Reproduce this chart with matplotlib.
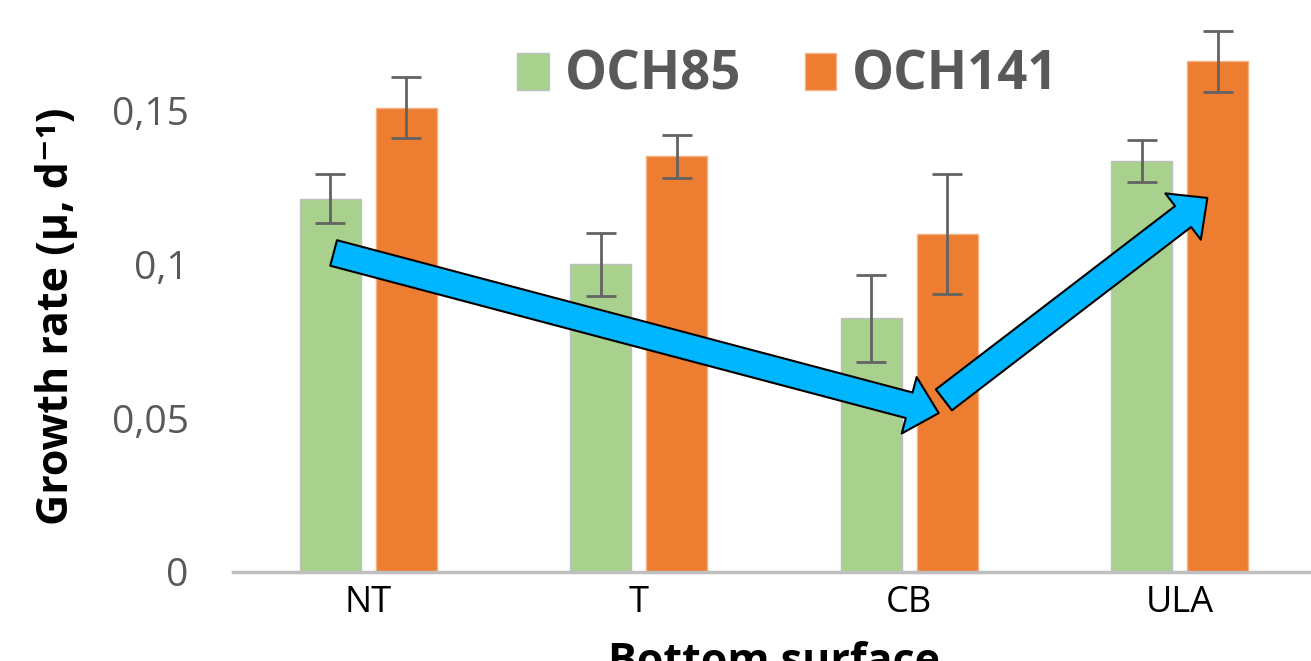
import matplotlib
matplotlib.use("Agg")
import matplotlib.pyplot as plt
import numpy as np
from matplotlib.ticker import FixedLocator

categories = ["NT", "T", "CB", "ULA"]
series_names = ["OCH85", "OCH141"]
och85 = [0.1215, 0.1001, 0.0825, 0.1336]
och85_err = [0.0079, 0.0103, 0.0142, 0.0068]
och141 = [0.1510, 0.1352, 0.1101, 0.1661]
och141_err = [0.0099, 0.0070, 0.0195, 0.0100]
yticks = [0, 0.05, 0.1, 0.15]
ytick_labels = ["0", "0,05", "0,1", "0,15"]

# annotation arrows (data coords: category index, value)
arrow1 = ((-0.128, 0.1038), (2.109, 0.0517))
arrow2 = ((2.128, 0.0560), (3.102, 0.1217))

green = "#A9D18E"
orange = "#ED7D31"
gray_text = "#595959"
fam = ["Open Sans", "DejaVu Sans"]

fig = plt.figure(figsize=(13.11, 6.61), dpi=100)
ax = fig.add_axes([233/1311, (661-572)/661, (1315-233)/1311, 572/661])

x = np.arange(len(categories))
w = 0.226
off = 0.141
ekw = dict(ecolor="#636363", elinewidth=2, capsize=11, capthick=2)
ax.bar(x - off, och85, w, color=green, edgecolor="#BFBFBF", linewidth=1, label=series_names[0],
       yerr=och85_err, error_kw=ekw)
ax.bar(x + off, och141, w, color=orange, edgecolor="#F4B183", linewidth=1, label=series_names[1],
       yerr=och141_err, error_kw=ekw)

ax.set_xlim(-0.5, 3.5)
ax.set_ylim(0, 0.1861)
ax.yaxis.set_major_locator(FixedLocator(yticks))
ax.set_yticklabels(ytick_labels)
ax.set_xticks(x)
ax.set_xticklabels(categories)

for s in ["top", "right", "left"]:
    ax.spines[s].set_visible(False)
ax.spines["bottom"].set_color("#BFBFBF")
ax.spines["bottom"].set_linewidth(2.5)
ax.tick_params(axis="both", length=0)
ax.tick_params(axis="y", labelsize=28, labelcolor=gray_text, pad=32)
ax.tick_params(axis="x", labelsize=26, labelcolor="black", pad=9)
for lab in ax.get_yticklabels() + ax.get_xticklabels():
    lab.set_family(fam)

fig.text(57/1311, 1-316/661, "Growth rate (μ, d⁻¹)", rotation=90, ha="center", va="center",
         fontsize=31, fontweight="bold", family=fam, color="black")
ax.set_xlabel("Bottom surface", fontsize=31, fontweight="bold", family=fam, labelpad=15)

for tail, tip in (arrow1, arrow2):
    ax.annotate("", xy=tip, xytext=tail, xycoords="data", textcoords="data",
                arrowprops=dict(arrowstyle="simple,head_length=1.1,head_width=2.1,tail_width=0.95",
                                mutation_scale=20, fc="#00B6FF", ec="black", lw=1.5,
                                shrinkA=0, shrinkB=0), zorder=5)

fig.legend(loc="center", bbox_to_anchor=(788/1311, 1-76/661), ncol=2, frameon=False,
           prop=dict(family=fam, weight="bold", size=38),
           handlelength=0.6, handleheight=0.7, handletextpad=0.3, columnspacing=1.2,
           labelcolor=gray_text)

fig.savefig("out.png", dpi=100)
